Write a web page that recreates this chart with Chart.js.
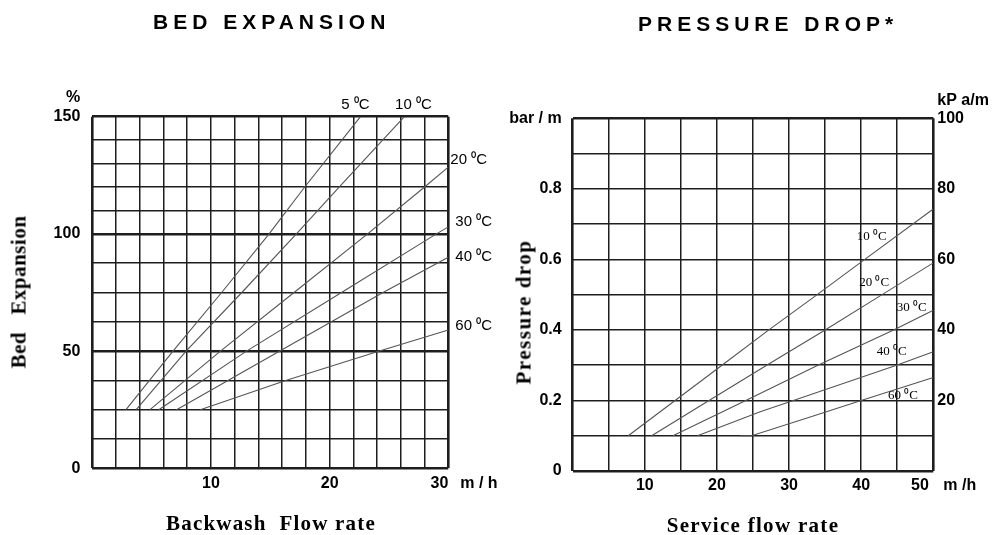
<!DOCTYPE html>
<html>
<head>
<meta charset="utf-8">
<script src="https://cdn.jsdelivr.net/npm/chart.js@4.4.1/dist/chart.umd.min.js"></script>
<style>
  html,body{margin:0;padding:0;background:#fff;}
  body{width:996px;height:535px;overflow:hidden;position:relative;}
  .box{position:absolute;top:0;width:498px;height:535px;}
  canvas{display:block;}
  .t{position:absolute;white-space:pre;color:#000;line-height:1;}
  .main{font:bold 21px "Liberation Sans",Arial,sans-serif;letter-spacing:5px;}
  .ax{font:bold 21px "Liberation Serif","Times New Roman",serif;transform:translate(-50%,-50%);}
  .axv{font:bold 21px "Liberation Serif","Times New Roman",serif;transform:translate(-50%,-50%) rotate(-90deg);}
</style>
</head>
<body>
<div class="box" style="left:0"><canvas id="bed" width="498" height="535"></canvas></div>
<div class="box" style="left:498px"><canvas id="pd" width="498" height="535"></canvas></div>

<div class="t main" style="left:153px;top:9.7px;">BED EXPANSION</div>
<div class="t main" style="left:638px;top:11.7px;">PRESSURE DROP*</div>
<div class="t ax" style="left:271px;top:523px;letter-spacing:1.2px;">Backwash  Flow rate</div>
<div class="t ax" style="left:753px;top:525px;letter-spacing:1.3px;">Service flow rate</div>
<div class="t axv" style="left:19px;top:292px;letter-spacing:0.5px;">Bed   Expansion</div>
<div class="t axv" style="left:524px;top:312px;letter-spacing:1.5px;">Pressure drop</div>

<script>
// ---------------- BED EXPANSION data ----------------
const bedCategories = ['5 ⁰C', '10 ⁰C', '20 ⁰C', '30 ⁰C', '40 ⁰C', '60 ⁰C'];
const bed5C  = [[2.84,25],[6.8,50],[10.9,75],[14.9,100],[17.9,120],[22.6,150]];
const bed10C = [[3.7,25],[7.9,50],[12.6,75],[17.2,100],[20.8,120],[26.3,150]];
const bed20C = [[4.86,25],[10.8,50],[17.0,75],[23.2,100],[28.0,120],[30,128.5]];
const bed30C = [[5.6,25],[13.0,50],[21.0,75],[29.0,100],[30,103]];
const bed40C = [[7.1,25],[15.8,50],[24.5,75],[30,90]];
const bed60C = [[9.1,25],[16.3,37.5],[24.2,50],[30,59]];
const bedXTicks  = [0,2,4,6,8,10,12,14,16,18,20,22,24,26,28,30];
const bedXLabels = [10,20,30];
const bedYTicks  = [0,12.5,25,37.5,50,62.5,75,87.5,100,110,120,130,140,150];
const bedYLabels = [0,50,100,150];
const bedHeavyY  = [0,50,100,150];

// ---------------- PRESSURE DROP data ----------------
const pdCategories = ['10 ⁰C', '20 ⁰C', '30 ⁰C', '40 ⁰C', '60 ⁰C'];
const pd10C = [[7.7,0.1],[14.2,0.2],[20.7,0.3],[27.2,0.4],[33.9,0.5],[40.5,0.6],[50,0.743]];
const pd20C = [[10.95,0.1],[18.9,0.2],[26.9,0.3],[35.0,0.4],[42.9,0.5],[50,0.59]];
const pd30C = [[13.9,0.1],[24.0,0.2],[34.0,0.3],[44.5,0.4],[50,0.456]];
const pd40C = [[17.3,0.1],[26.0,0.168],[30.6,0.2],[44.9,0.3],[50,0.338]];
const pd60C = [[23.2,0.1],[24.8,0.1],[32.5,0.15],[40.0,0.2],[50,0.265]];
const pdXTicks   = [0,5,10,15,20,25,30,35,40,45,50];
const pdXLabels  = [10,20,30,40,50];
const pdBarTicks = [0,0.1,0.2,0.3,0.4,0.5,0.6,0.7,0.8,0.9,1.0];
const pdBarLabels = [0,0.2,0.4,0.6,0.8];
const pdKpaTicks = [20,40,60,80,100];

// ---------------- helpers ----------------
const tickFont = {family:'"Liberation Sans", Arial, sans-serif', size:16, weight:'bold'};
const near = (a,b)=>Math.abs(a-b)<1e-6;
const toPts = arr => arr.map(p => ({x:p[0], y:p[1]}));
const curve = (label, arr) => ({
  label, data: toPts(arr), borderColor:'#555', borderWidth:1.1,
  pointRadius:0, pointHoverRadius:0, fill:false, tension:0
});

const textPlugin = {
  id:'textLabels',
  afterDraw(chart, args, opts){
    const ctx = chart.ctx, xs = chart.scales.x, ys = chart.scales.y;
    ctx.save();
    ctx.fillStyle = '#000';
    ctx.textBaseline = 'middle';
    (opts.items || []).forEach(it => {
      ctx.font = it.font;
      ctx.textAlign = it.align || 'center';
      const px = (it.px !== undefined) ? it.px(chart) : xs.getPixelForValue(it.x) + (it.dx||0);
      const py = (it.py !== undefined) ? it.py(chart) : ys.getPixelForValue(it.y) + (it.dy||0);
      ctx.fillText(it.text, px, py);
    });
    ctx.restore();
  }
};

// ---------------- BED EXPANSION chart ----------------
const bedSeries = [bed5C, bed10C, bed20C, bed30C, bed40C, bed60C];
const bedLabelOffsets = [
  {dx:-5, dy:-12, align:'center'},
  {dx:9,  dy:-12, align:'center'},
  {dx:2,  dy:-7,  align:'left'},
  {dx:7,  dy:-5,  align:'left'},
  {dx:7,  dy:0,   align:'left'},
  {dx:7,  dy:-4,  align:'left'}
];
const bedLabelFont = '15px "Liberation Sans", Arial, sans-serif';
const bedItems = bedSeries.map((s,i) => ({
  text: bedCategories[i], x: s[s.length-1][0], y: s[s.length-1][1],
  dx: bedLabelOffsets[i].dx, dy: bedLabelOffsets[i].dy, align: bedLabelOffsets[i].align, font: bedLabelFont
}));
bedItems.push({text:'%', font:'bold 16px "Liberation Sans", Arial, sans-serif', align:'right',
  px: c => c.chartArea.left - 12, py: c => c.scales.y.getPixelForValue(150) - 19});
bedItems.push({text:'m / h', font:'bold 16px "Liberation Sans", Arial, sans-serif', align:'left',
  px: c => c.scales.x.getPixelForValue(30) + 12, py: c => c.chartArea.bottom + 15.6});

new Chart(document.getElementById('bed'), {
  type:'line',
  data:{ datasets: bedSeries.map((s,i) => curve(bedCategories[i], s)) },
  options:{
    responsive:false, animation:false, devicePixelRatio:1,
    layout:{ padding:{ left:0, top:116.7, right:49.7, bottom:36.7 } },
    plugins:{ legend:{display:false}, tooltip:{enabled:false}, textLabels:{ items: bedItems } },
    scales:{
      x:{
        type:'linear', min:0, max:30,
        afterBuildTicks: s => { s.ticks = bedXTicks.map(v => ({value:v})); },
        afterFit: s => { s.height = 30; },
        ticks:{ autoSkip:false, maxRotation:0, padding:6, color:'#000', font:tickFont,
                callback: v => bedXLabels.some(l => near(l,v)) ? (near(v,30) ? '30    ' : String(v)) : '' },
        grid:{ drawTicks:false, color:'#1e1e1e',
               lineWidth: c => (c.tick && (near(c.tick.value,0) || near(c.tick.value,30))) ? 2.6 : 1.5 },
        border:{ display:false }
      },
      y:{
        type:'linear', min:0, max:150,
        afterBuildTicks: s => { s.ticks = bedYTicks.map(v => ({value:v})); },
        afterFit: s => { s.width = 92.3; },
        ticks:{ autoSkip:false, padding:12, color:'#000', font:tickFont,
                callback: v => bedYLabels.some(l => near(l,v)) ? String(v) : '' },
        grid:{ drawTicks:false, color:'#1e1e1e',
               lineWidth: c => (c.tick && bedHeavyY.some(h => near(h, c.tick.value))) ? 2.6 : 1.5 },
        border:{ display:false }
      }
    }
  },
  plugins:[textPlugin]
});

// ---------------- PRESSURE DROP chart ----------------
const pdSeries = [pd10C, pd20C, pd30C, pd40C, pd60C];
const pdLabelAnchors = [[41.46,0.666],[41.79,0.534],[46.99,0.464],[44.23,0.340],[45.78,0.213]];
const pdLabelFont = '13px "Liberation Serif", "Times New Roman", serif';
const pdItems = pdSeries.map((s,i) => ({
  text: pdCategories[i], x: pdLabelAnchors[i][0], y: pdLabelAnchors[i][1], align:'center', font: pdLabelFont
}));
pdItems.push({text:'kP a/m', font:'bold 16px "Liberation Sans", Arial, sans-serif', align:'left',
  px: c => c.chartArea.right + 4, py: c => c.scales.y.getPixelForValue(1) - 18});
pdItems.push({text:'m /h', font:'bold 16px "Liberation Sans", Arial, sans-serif', align:'left',
  px: c => c.scales.x.getPixelForValue(50) + 10, py: c => c.chartArea.bottom + 14.6});

new Chart(document.getElementById('pd'), {
  type:'line',
  data:{ datasets: pdSeries.map((s,i) => curve(pdCategories[i], s)) },
  options:{
    responsive:false, animation:false, devicePixelRatio:1,
    layout:{ padding:{ left:0, top:118.3, right:0, bottom:34 } },
    plugins:{ legend:{display:false}, tooltip:{enabled:false}, textLabels:{ items: pdItems } },
    scales:{
      x:{
        type:'linear', min:0, max:50,
        afterBuildTicks: s => { s.ticks = pdXTicks.map(v => ({value:v})); },
        afterFit: s => { s.height = 30; },
        ticks:{ autoSkip:false, maxRotation:0, padding:5, color:'#000', font:tickFont,
                callback: v => pdXLabels.some(l => near(l,v)) ? (near(v,50) ? '50      ' : String(v)) : '' },
        grid:{ drawTicks:false, color:'#1e1e1e',
               lineWidth: c => (c.tick && (near(c.tick.value,0) || near(c.tick.value,50))) ? 2.6 : 1.5 },
        border:{ display:false }
      },
      y:{
        type:'linear', position:'left', min:0, max:1,
        afterBuildTicks: s => { s.ticks = pdBarTicks.map(v => ({value:v})); },
        afterFit: s => { s.width = 74.7; },
        ticks:{ autoSkip:false, padding:11, color:'#000', font:tickFont,
                callback: v => near(v,1) ? 'bar / m' : (pdBarLabels.some(l => near(l,v)) ? (near(v,0) ? '0' : v.toFixed(1)) : '') },
        grid:{ drawTicks:false, color:'#1e1e1e',
               lineWidth: c => (c.tick && (near(c.tick.value,0) || near(c.tick.value,1))) ? 2.6 : 1.5 },
        border:{ display:false }
      },
      y2:{
        type:'linear', position:'right', min:0, max:100, display:true,
        afterBuildTicks: s => { s.ticks = pdKpaTicks.map(v => ({value:v})); },
        afterFit: s => { s.width = 62.7; },
        ticks:{ autoSkip:false, padding:4, color:'#000', font:tickFont, callback: v => String(v) },
        grid:{ display:false, drawTicks:false },
        border:{ display:false }
      }
    }
  },
  plugins:[textPlugin]
});
</script>
</body>
</html>
